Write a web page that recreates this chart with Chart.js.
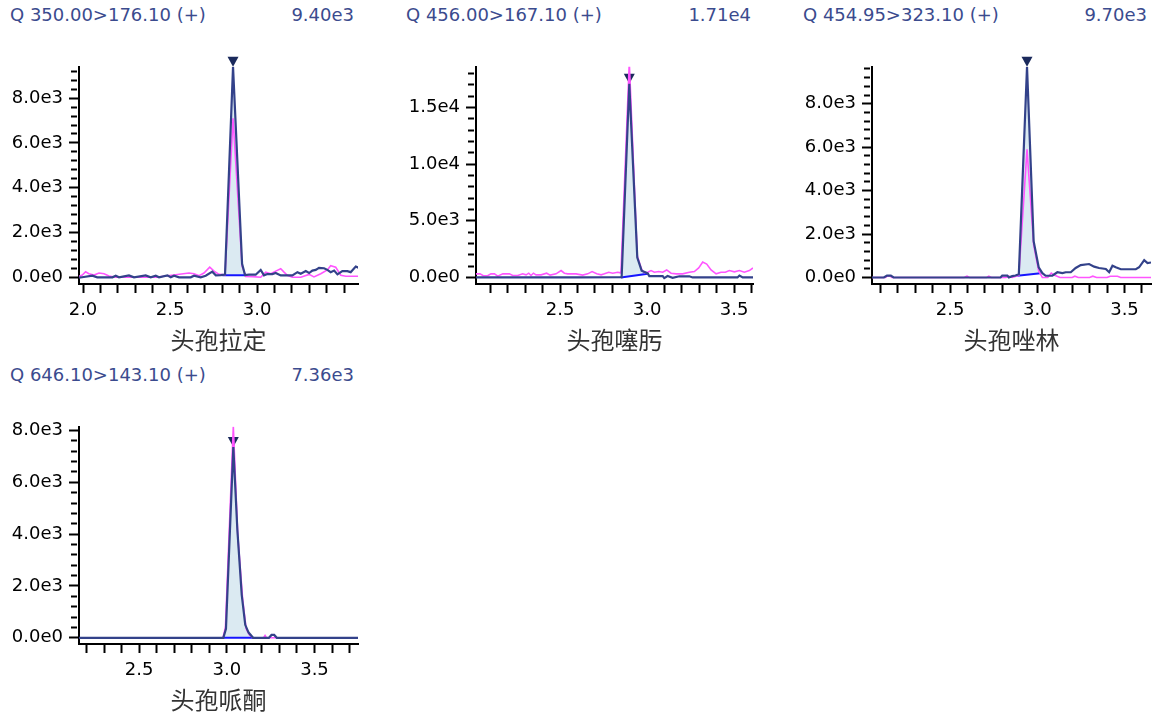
<!DOCTYPE html>
<html><head><meta charset="utf-8">
<script src="https://cdn.jsdelivr.net/npm/chart.js@4.4.1/dist/chart.umd.min.js"></script>
<style>
body{margin:0;background:#fff;width:1153px;height:716px;position:relative;overflow:hidden;font-family:"DejaVu Sans","Noto Sans CJK SC",sans-serif;}
.hd{position:absolute;font-size:18px;line-height:24px;color:#3b4b8e;white-space:nowrap;}
canvas{position:absolute;}
</style></head><body>
<script>
// ---- texts ----
const titles = ['Q 350.00>176.10 (+)', 'Q 456.00>167.10 (+)', 'Q 454.95>323.10 (+)', 'Q 646.10>143.10 (+)'];
const maxTexts = ['9.40e3', '1.71e4', '9.70e3', '7.36e3'];
const names = ['头孢拉定', '头孢噻肟', '头孢唑林', '头孢哌酮'];

// ---- axes ----
const xMins = [1.977, 2.017, 2.052, 2.157];
const xMaxs = [3.580, 3.609, 3.652, 3.748];
const yMins = [-300, -580, -300, -240];
const yMaxs = [9400, 18600, 9700, 8140];
const xMinorStep = 0.1;
const yMinorSteps = [400, 1000, 400, 400];
const xTickLabels = [['2.0', '2.5', '3.0'], ['2.5', '3.0', '3.5'], ['2.5', '3.0', '3.5'], ['2.5', '3.0', '3.5']];
const yTickLabels = [
  ['0.0e0', '2.0e3', '4.0e3', '6.0e3', '8.0e3'],
  ['0.0e0', '5.0e3', '1.0e4', '1.5e4'],
  ['0.0e0', '2.0e3', '4.0e3', '6.0e3', '8.0e3'],
  ['0.0e0', '2.0e3', '4.0e3', '6.0e3', '8.0e3']
];

// ---- peaks (apex time, apex intensity) ----
const peakTimes = [2.862, 2.898, 2.941, 3.037];
const peakValues = [9400, 17100, 9700, 7360];

// ---- traces: [time (min), intensity] ----
const navy1 = [[1.977,-20],[1.995,0],[2.054,70],[2.082,0],[2.169,0],[2.188,70],[2.207,0],[2.264,85],[2.293,0],[2.360,85],[2.389,0],[2.418,70],[2.437,0],[2.485,85],[2.504,0],[2.523,70],[2.552,0],[2.619,0],[2.638,70],[2.676,0],[2.705,70],[2.743,250],[2.763,90],[2.791,100],[2.816,120],[2.862,9400],[2.914,600],[2.931,100],[2.954,115],[2.992,115],[3.021,330],[3.040,85],[3.059,145],[3.088,145],[3.107,190],[3.136,85],[3.165,85],[3.203,85],[3.232,230],[3.251,160],[3.280,275],[3.299,190],[3.318,300],[3.337,330],[3.356,420],[3.385,405],[3.404,330],[3.423,230],[3.443,300],[3.462,130],[3.490,275],[3.519,275],[3.538,230],[3.567,480],[3.586,420]];
const magenta1 = [[1.977,40],[1.996,100],[2.015,245],[2.034,160],[2.063,100],[2.092,190],[2.121,160],[2.149,60],[2.188,0],[2.300,0],[2.420,0],[2.609,190],[2.638,160],[2.667,70],[2.695,190],[2.728,450],[2.753,275],[2.782,130],[2.816,110],[2.862,7100],[2.914,500],[2.935,40],[2.973,30],[3.021,0],[3.050,230],[3.079,160],[3.107,275],[3.136,380],[3.155,230],[3.174,90],[3.203,0],[3.251,0],[3.299,130],[3.327,15],[3.366,160],[3.404,330],[3.423,520],[3.452,450],[3.481,90],[3.510,45],[3.586,45]];
const baseline1 = [[2.800,90],[2.933,90]];

const navy2 = [[2.017,0],[2.300,0],[2.600,0],[2.854,20],[2.898,17100],[2.944,1760],[2.969,600],[3.004,350],[3.013,120],[3.090,120],[3.099,-60],[3.118,120],[3.147,-30],[3.186,100],[3.243,100],[3.262,0],[3.520,0],[3.531,170],[3.550,0],[3.609,0]];
const magenta2 = [[2.017,317],[2.040,317],[2.059,144],[2.084,144],[2.103,317],[2.123,317],[2.142,115],[2.171,317],[2.209,317],[2.228,173],[2.257,173],[2.285,317],[2.305,230],[2.320,375],[2.333,173],[2.347,375],[2.362,230],[2.391,230],[2.423,375],[2.443,202],[2.477,317],[2.506,605],[2.525,375],[2.544,317],[2.592,317],[2.630,202],[2.659,317],[2.684,518],[2.711,317],[2.736,230],[2.755,317],[2.780,461],[2.803,375],[2.831,461],[2.850,400],[2.898,19000],[2.944,1900],[2.969,700],[2.985,432],[3.004,461],[3.023,605],[3.042,461],[3.067,518],[3.090,461],[3.113,662],[3.138,375],[3.167,317],[3.205,317],[3.243,461],[3.272,518],[3.297,835],[3.320,1354],[3.343,1181],[3.368,662],[3.397,317],[3.425,461],[3.450,461],[3.473,605],[3.502,490],[3.531,605],[3.559,461],[3.588,605],[3.609,835]];
const baseline2 = [[2.850,0],[3.004,330]];

const navy3 = [[2.052,0],[2.120,0],[2.138,90],[2.160,90],[2.176,0],[2.400,0],[2.600,0],[2.789,0],[2.799,90],[2.828,90],[2.837,0],[2.856,60],[2.875,90],[2.894,150],[2.941,9700],[2.979,1670],[3.008,470],[3.029,200],[3.048,80],[3.086,80],[3.115,240],[3.144,200],[3.163,240],[3.192,240],[3.220,437],[3.249,573],[3.297,620],[3.326,500],[3.354,437],[3.393,390],[3.412,240],[3.431,543],[3.450,470],[3.479,380],[3.565,380],[3.584,470],[3.613,800],[3.632,660],[3.652,690]];
const magenta3 = [[2.052,0],[2.130,0],[2.138,60],[2.155,60],[2.167,0],[2.580,0],[2.597,60],[2.611,0],[2.710,0],[2.722,60],[2.736,0],[2.820,0],[2.837,60],[2.856,0],[2.894,100],[2.941,5900],[2.979,1500],[3.008,300],[3.029,0],[3.060,0],[3.080,200],[3.100,100],[3.130,0],[3.200,0],[3.215,60],[3.235,0],[3.300,0],[3.318,60],[3.340,0],[3.400,0],[3.418,60],[3.460,60],[3.478,0],[3.652,0]];
const baseline3 = [[2.885,75],[3.019,196]];

const navy4 = [[2.157,0],[2.500,0],[2.800,0],[2.980,0],[2.995,350],[3.037,7360],[3.060,4170],[3.085,1650],[3.105,500],[3.124,200],[3.150,0],[3.240,0],[3.255,110],[3.270,110],[3.285,0],[3.500,0],[3.748,0]];
const magenta4 = [[2.157,0],[2.600,0],[2.978,0],[2.992,400],[3.037,8150],[3.062,4000],[3.090,1500],[3.110,350],[3.130,100],[3.150,0],[3.210,0],[3.218,90],[3.226,0],[3.748,0]];
const baseline4 = [[2.980,0],[3.151,0]];

const navyTraces = [navy1, navy2, navy3, navy4];
const magentaTraces = [magenta1, magenta2, magenta3, magenta4];
const baselines = [baseline1, baseline2, baseline3, baseline4];

// ---- layout ----
const boxLeft = [0, 397, 793, 0];
const boxTop = [50, 50, 50, 410];
const boxWidth = [380, 380, 360, 380];
const boxHeight = 310;
const padRight = [22, 24, 2, 22];
const headLeft = [10, 406, 803, 10];
const headTop = [3, 3, 3, 363];
const headRight = [354, 751, 1147, 354];

const NAVY = '#33428a', MAGENTA = '#ff55ff', BASE = '#1515ff', FILL = '#dbeaf2', TRI = '#1b2a5c';

function pts(arr) { return arr.map(p => ({x: p[0], y: p[1]})); }
function tickList(min, max, step) {
  const out = [];
  for (let k = Math.ceil(min / step - 1e-9); k * step <= max + 1e-9; k++) out.push({value: +(k * step).toFixed(6)});
  return out;
}
function labelFor(list, v) {
  const hit = list.find(s => Math.abs(parseFloat(s) - v) < 1e-6 * Math.max(1, Math.abs(v)));
  return hit === undefined ? '' : hit;
}

const peakMarker = {
  id: 'peakMarker',
  beforeDatasetsDraw(chart, args, opts) {
    const {ctx} = chart, xs = chart.scales.x, ys = chart.scales.y;
    const px = xs.getPixelForValue(opts.t), py = ys.getPixelForValue(opts.v);
    ctx.save();
    ctx.fillStyle = TRI;
    ctx.beginPath();
    ctx.moveTo(px, py);
    ctx.lineTo(px - 5.5, py - 10);
    ctx.lineTo(px + 5.5, py - 10);
    ctx.closePath();
    ctx.fill();
    ctx.restore();
  }
};

for (let i = 0; i < 4; i++) {
  const h1 = document.createElement('div');
  h1.className = 'hd'; h1.textContent = titles[i];
  h1.style.left = headLeft[i] + 'px'; h1.style.top = headTop[i] + 'px';
  document.body.appendChild(h1);
  const h2 = document.createElement('div');
  h2.className = 'hd'; h2.textContent = maxTexts[i];
  h2.style.left = (headRight[i] - 200) + 'px'; h2.style.width = '200px'; h2.style.textAlign = 'right';
  h2.style.top = headTop[i] + 'px';
  document.body.appendChild(h2);

  const cv = document.createElement('canvas');
  cv.width = boxWidth[i]; cv.height = boxHeight;
  cv.style.left = boxLeft[i] + 'px'; cv.style.top = boxTop[i] + 'px';
  cv.style.width = boxWidth[i] + 'px'; cv.style.height = boxHeight + 'px';
  document.body.appendChild(cv);

  const bl = baselines[i];
  const fillPts = [bl[0]].concat(navyTraces[i].filter(p => p[0] > bl[0][0] && p[0] < bl[1][0])).concat([bl[1]]);
  const xl = xTickLabels[i], yl = yTickLabels[i];

  new Chart(cv, {
    type: 'line',
    data: {
      datasets: [
        {data: pts(navyTraces[i]), borderColor: NAVY, borderWidth: 2.2, pointRadius: 0, fill: false, tension: 0},
        {data: pts(magentaTraces[i]), borderColor: MAGENTA, borderWidth: 1.6, pointRadius: 0, fill: false, tension: 0},
        {data: pts(bl), borderColor: BASE, borderWidth: 2, pointRadius: 0, fill: false, tension: 0},
        {data: pts(fillPts), borderWidth: 0, borderColor: 'rgba(0,0,0,0)', backgroundColor: FILL, pointRadius: 0, fill: 2, tension: 0}
      ]
    },
    options: {
      responsive: false, animation: false, devicePixelRatio: 1,
      layout: {padding: {top: 12, right: padRight[i], left: 0, bottom: 0}},
      plugins: {legend: {display: false}, tooltip: {enabled: false}, filler: {drawTime: 'beforeDatasetsDraw'},
                peakMarker: {t: peakTimes[i], v: peakValues[i]}},
      scales: {
        x: {
          type: 'linear', min: xMins[i], max: xMaxs[i],
          afterBuildTicks: s => { s.ticks = tickList(xMins[i], xMaxs[i], xMinorStep); },
          afterFit: s => { s.height = 76; },
          border: {display: true, color: '#000', width: 2},
          grid: {drawOnChartArea: false, drawTicks: true, tickLength: 9, tickWidth: 2, tickColor: '#000'},
          ticks: {autoSkip: false, maxRotation: 0, padding: 7, color: '#000', font: {size: 18, family: '"DejaVu Sans"'},
                  callback: v => labelFor(xl, v)},
          title: {display: true, text: names[i], color: '#333', font: {size: 24, family: '"Noto Sans CJK SC"'}, padding: {top: 0, bottom: 6}}
        },
        y: {
          type: 'linear', min: yMins[i], max: yMaxs[i],
          afterBuildTicks: s => { s.ticks = tickList(yMins[i], yMaxs[i], yMinorSteps[i]); },
          afterFit: s => { s.width = 79; },
          border: {display: true, color: '#000', width: 2},
          grid: {drawOnChartArea: false, drawTicks: true, tickLength: 10, tickWidth: 2, tickColor: '#000',
                 tickBorderDash: c => (c.tick && labelFor(yl, c.tick.value)) ? [] : [0, 2, 6, 40]},
          ticks: {autoSkip: false, padding: 6, color: '#000', font: {size: 18, family: '"DejaVu Sans"'},
                  callback: v => labelFor(yl, v)}
        }
      }
    },
    plugins: [peakMarker]
  });
}
</script>
</body></html>
